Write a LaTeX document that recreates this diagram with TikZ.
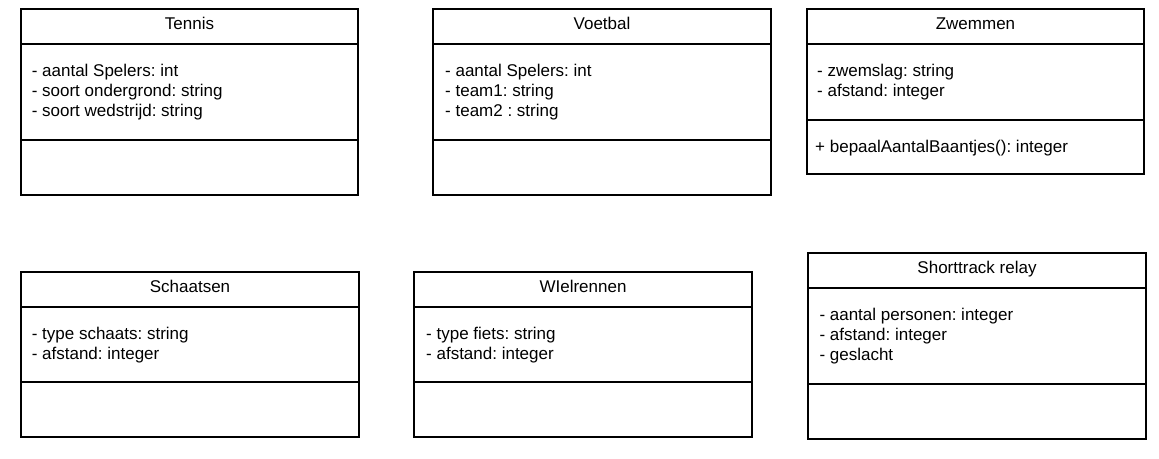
\documentclass[tikz,border=0pt]{standalone}
\usepackage{fontspec}
\setmainfont{Liberation Sans}
\usetikzlibrary{calc}
\frenchspacing
\tikzset{
  classbox/.style={draw=black, line width=1.6pt, rectangle, inner sep=0pt, outer sep=0pt, anchor=north west, fill=white},
  divline/.style={draw=black, line width=1.6pt},
  titletext/.style={inner sep=0pt, anchor=base, font=\fontsize{17}{20}\selectfont\frenchspacing, text=black},
  attrtext/.style={inner sep=0pt, anchor=base west, font=\fontsize{17}{20}\selectfont\frenchspacing, text=black},
}
\begin{document}
\begin{tikzpicture}[x=1pt,y=-1pt]
\useasboundingbox[fill=white] (0,0) rectangle (1159,458);

% ---------- Tennis ----------
\node[classbox, minimum width=337pt, minimum height=186pt] (tennis) at (21,9) {};
\draw[divline] (21,44) -- (358,44);
\draw[divline] (21,140) -- (358,140);
\node[titletext] (tennis-t) at (189.5,29) {Tennis};
\node[attrtext] (tennis-a1) at (31.6,76) {- aantal Spelers: int};
\node[attrtext] (tennis-a2) at (31.6,96) {- soort ondergrond: string};
\node[attrtext] (tennis-a3) at (31.6,116) {- soort wedstrijd: string};

% ---------- Voetbal ----------
\node[classbox, minimum width=338pt, minimum height=186pt] (voetbal) at (433,9) {};
\draw[divline] (433,44) -- (771,44);
\draw[divline] (433,140) -- (771,140);
\node[titletext] (voetbal-t) at (602,29) {Voetbal};
\node[attrtext] (voetbal-a1) at (445,76) {- aantal Spelers: int};
\node[attrtext] (voetbal-a2) at (445,96) {- team1: string};
\node[attrtext] (voetbal-a3) at (445,116) {- team2 : string};

% ---------- Zwemmen ----------
\node[classbox, minimum width=337pt, minimum height=165pt] (zwemmen) at (807,9) {};
\draw[divline] (807,44) -- (1144,44);
\draw[divline] (807,120) -- (1144,120);
\node[titletext] (zwemmen-t) at (975.5,29) {Zwemmen};
\node[attrtext] (zwemmen-a1) at (817,76) {- zwemslag: string};
\node[attrtext] (zwemmen-a2) at (817,96) {- afstand: integer};
\node[attrtext] (zwemmen-m1) at (815,152) {+ bepaalAantalBaantjes(): integer};

% ---------- Schaatsen ----------
\node[classbox, minimum width=338pt, minimum height=165pt] (schaatsen) at (21,272) {};
\draw[divline] (21,307) -- (359,307);
\draw[divline] (21,382) -- (359,382);
\node[titletext] (schaatsen-t) at (190,292) {Schaatsen};
\node[attrtext] (schaatsen-a1) at (31.6,339) {- type schaats: string};
\node[attrtext] (schaatsen-a2) at (31.6,359) {- afstand: integer};

% ---------- Wielrennen ----------
\node[classbox, minimum width=338pt, minimum height=165pt] (wielrennen) at (414,272) {};
\draw[divline] (414,307) -- (752,307);
\draw[divline] (414,382) -- (752,382);
\node[titletext] (wielrennen-t) at (583,292) {WIelrennen};
\node[attrtext] (wielrennen-a1) at (426,339) {- type fiets: string};
\node[attrtext] (wielrennen-a2) at (426,359) {- afstand: integer};

% ---------- Shorttrack relay ----------
\node[classbox, minimum width=338pt, minimum height=186pt] (shorttrack) at (808,253) {};
\draw[divline] (808,288) -- (1146,288);
\draw[divline] (808,384) -- (1146,384);
\node[titletext] (shorttrack-t) at (977,273) {Shorttrack relay};
\node[attrtext] (shorttrack-a1) at (819.3,320) {- aantal personen: integer};
\node[attrtext] (shorttrack-a2) at (819.3,340) {- afstand: integer};
\node[attrtext] (shorttrack-a3) at (819.3,360) {- geslacht};
\end{tikzpicture}
\end{document}
